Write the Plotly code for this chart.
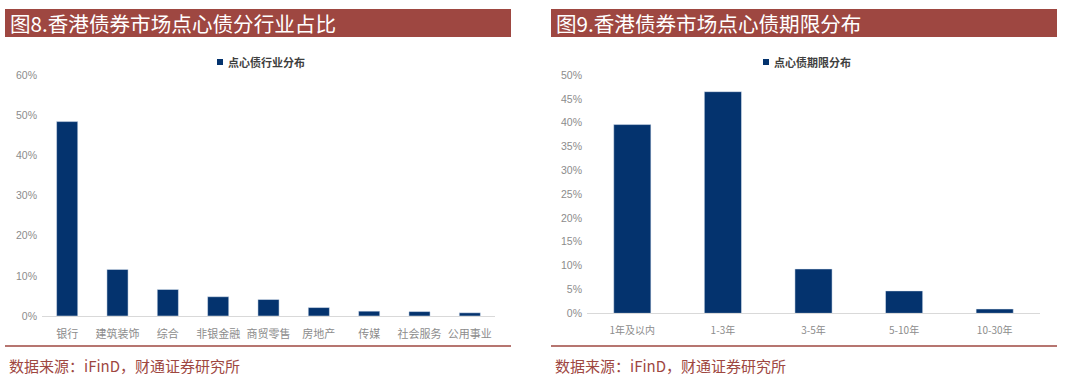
import plotly.graph_objects as go

# ---- data ----
industries = ["银行", "建筑装饰", "综合", "非银金融", "商贸零售", "房地产", "传媒", "社会服务", "公用事业"]
industry_share = [48.4, 11.6, 6.6, 4.8, 4.1, 2.1, 1.2, 1.1, 0.8]
maturities = ["1年及以内", "1-3年", "3-5年", "5-10年", "10-30年"]
maturity_share = [39.6, 46.5, 9.3, 4.7, 0.9]

left_title = "图8.香港债券市场点心债分行业占比"
right_title = "图9.香港债券市场点心债期限分布"
left_series = "点心债行业分布"
right_series = "点心债期限分布"
source = "数据来源：iFinD，财通证券研究所"

W, H = 1080, 378
BAR = "#04336E"
RED = "#9E4741"
TICK = "#8C8C8C"
CJK = "Noto Sans CJK SC"
LAT = "Liberation Sans"

def px(x):
    return x / W

def py(y):
    return 1 - y / H

fig = go.Figure()
fig.add_trace(go.Bar(x=industries, y=industry_share, marker_color=BAR, width=0.42,
                     xaxis="x", yaxis="y", showlegend=False, name=left_series))
fig.add_trace(go.Bar(x=maturities, y=maturity_share, marker_color=BAR, width=0.41,
                     xaxis="x2", yaxis="y2", showlegend=False, name=right_series))

axis_common = dict(showgrid=False, zeroline=False, fixedrange=True, automargin=False)
fig.update_layout(
    width=W, height=H, autosize=False, showlegend=False,
    margin=dict(l=0, r=0, t=0, b=0, pad=0, autoexpand=False),
    paper_bgcolor="white", plot_bgcolor="white",
    xaxis=dict(domain=[px(42), px(495)], anchor="y", showline=True, linecolor="#D9D9D9",
               linewidth=1, ticks="", ticklabelstandoff=8,
               tickfont=dict(family=CJK, size=11, color=TICK), **axis_common),
    yaxis=dict(domain=[py(316), py(75)], anchor="x", range=[0, 60], dtick=10,
               ticksuffix="%", showline=False, ticks="", ticklabelstandoff=4,
               tickfont=dict(family=LAT, size=10.5, color=TICK), **axis_common),
    xaxis2=dict(domain=[px(587), px(1040)], anchor="y2", showline=True, linecolor="#D9D9D9",
                linewidth=1, ticks="", ticklabelstandoff=8,
                tickfont=dict(family=CJK, size=10, color=TICK), **axis_common),
    yaxis2=dict(domain=[py(313.3), py(75)], anchor="x2", range=[0, 50], dtick=5,
                ticksuffix="%", showline=False, ticks="", ticklabelstandoff=4,
                tickfont=dict(family=LAT, size=10.5, color=TICK), **axis_common),
)

shapes = []
annotations = []
for (x0, x1, title, legx, series) in [(5, 511, left_title, 217, left_series),
                                       (551, 1057, right_title, 763, right_series)]:
    # title bar
    shapes.append(dict(type="rect", xref="paper", yref="paper", x0=px(x0), x1=px(x1),
                       y0=py(37), y1=py(9), fillcolor=RED, line=dict(width=0), layer="below"))
    annotations.append(dict(xref="paper", yref="paper", x=px(x0 + 3), y=py(23), xanchor="left",
                            yanchor="middle", text=title, showarrow=False,
                            font=dict(family=CJK, size=20.6, color="white")))
    # legend
    shapes.append(dict(type="rect", xref="paper", yref="paper", x0=px(legx), x1=px(legx + 6),
                       y0=py(65), y1=py(59), fillcolor=BAR, line=dict(width=0)))
    annotations.append(dict(xref="paper", yref="paper", x=px(legx + 9), y=py(62), xanchor="left",
                            yanchor="middle", text="<b>" + series + "</b>", showarrow=False,
                            font=dict(family=CJK, size=11, color="#404040")))
    # bottom rule
    shapes.append(dict(type="line", xref="paper", yref="paper", x0=px(x0), x1=px(x1),
                       y0=py(346), y1=py(346), line=dict(color=RED, width=1.5)))
    annotations.append(dict(xref="paper", yref="paper", x=px(x0 + 2), y=py(365), xanchor="left",
                            yanchor="middle", text=source, showarrow=False,
                            font=dict(family=CJK, size=15, color=RED)))

fig.update_layout(shapes=shapes, annotations=annotations)
fig.write_html("out.html", config={"displayModeBar": False},
               post_script="document.body.style.margin='0';document.body.style.overflow='hidden';")
